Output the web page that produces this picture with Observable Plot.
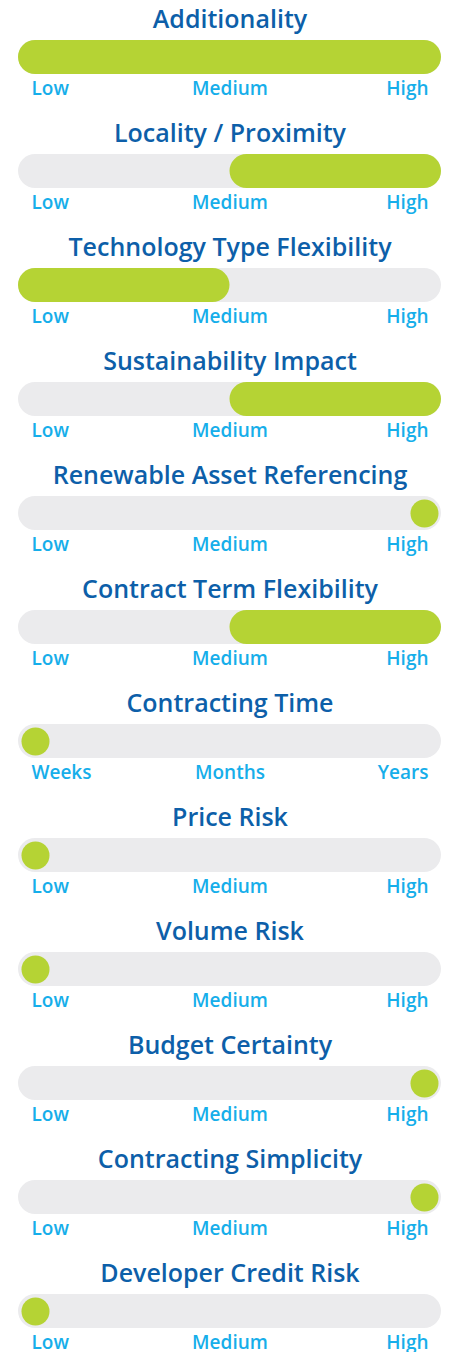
<!DOCTYPE html>
<html>
<head>
<meta charset="utf-8">
<script src="https://cdn.jsdelivr.net/npm/d3@7"></script>
<script src="https://cdn.jsdelivr.net/npm/@observablehq/plot@0.6"></script>
<style>
  html, body { margin: 0; padding: 0; background: #fff; overflow: hidden; }
  #chart svg { display: block; }
</style>
</head>
<body>
<div id="chart"></div>
<script>
// Rows (criteria), in order top to bottom
const titles = [
  "Additionality",
  "Locality / Proximity",
  "Technology Type Flexibility",
  "Sustainability Impact",
  "Renewable Asset Referencing",
  "Contract Term Flexibility",
  "Contracting Time",
  "Price Risk",
  "Volume Risk",
  "Budget Certainty",
  "Contracting Simplicity",
  "Developer Credit Risk"
];
// Scale labels per row (0 = low end, 1 = middle, 2 = high end)
const lowLabels  = ["Low","Low","Low","Low","Low","Low","Weeks","Low","Low","Low","Low","Low"];
const midLabels  = ["Medium","Medium","Medium","Medium","Medium","Medium","Months","Medium","Medium","Medium","Medium","Medium"];
const highLabels = ["High","High","High","High","High","High","Years","High","High","High","High","High"];
// Kind of indicator: "range" = filled segment, "point" = dot
const kinds = ["range","range","range","range","point","range","point","point","point","point","point","point"];
// Range segments (start/end on 0..2 scale); for points, start is the level
const starts = [0, 1, 0, 1, 2, 1, 0, 0, 0, 2, 2, 0];
const ends   = [2, 2, 1, 2, 2, 2, 0, 0, 0, 2, 2, 0];

const rows = titles.map((t, i) => ({
  title: t, low: lowLabels[i], mid: midLabels[i], high: highLabels[i],
  kind: kinds[i], start: starts[i], end: ends[i]
}));
const ranges = rows.filter(d => d.kind === "range");
const pointsLow = rows.filter(d => d.kind === "point" && d.start === 0);
const pointsHigh = rows.filter(d => d.kind === "point" && d.start === 2);

const TITLE = "#0d5fa9";
const LABEL = "#16aeea";
const GREEN = "#b5d334";
const TRACK = "#ebebed";
const FONT = "'Open Sans', 'DejaVu Sans', sans-serif";

const chart = Plot.plot({
  width: 453,
  height: 1352,
  margin: 0,
  style: { fontFamily: FONT, background: "#fff" },
  x: { domain: [0, 2], range: [18, 441], axis: null },
  y: {
    type: "band", domain: titles, range: [40, 1331.3],
    paddingInner: 0.70254, paddingOuter: 0, align: 0, axis: null
  },
  marks: [
    Plot.barX(rows, { y: "title", x1: 0, x2: 2, fill: TRACK, rx: 17 }),
    Plot.barX(ranges, { y: "title", x1: "start", x2: "end", fill: GREEN, rx: 17 }),
    Plot.dot(pointsLow, { y: "title", x: "start", dx: 17, r: 14, fill: GREEN }),
    Plot.dot(pointsHigh, { y: "title", x: "start", dx: -17, r: 14, fill: GREEN }),
    Plot.text(rows, { y: "title", x: 1, text: "title", dy: -30, lineAnchor: "bottom",
      fill: TITLE, fontSize: 25, fontWeight: 600 }),
    Plot.text(rows, { y: "title", x: 0, text: "low", dx: 13, dy: 37, lineAnchor: "bottom",
      textAnchor: "start", fill: LABEL, fontSize: 19, fontWeight: 600 }),
    Plot.text(rows, { y: "title", x: 1, text: "mid", dy: 37, lineAnchor: "bottom",
      fill: LABEL, fontSize: 19, fontWeight: 600 }),
    Plot.text(rows, { y: "title", x: 2, text: "high", dx: -13, dy: 37, lineAnchor: "bottom",
      textAnchor: "end", fill: LABEL, fontSize: 19, fontWeight: 600 })
  ]
});
document.getElementById("chart").appendChild(chart);
</script>
</body>
</html>
